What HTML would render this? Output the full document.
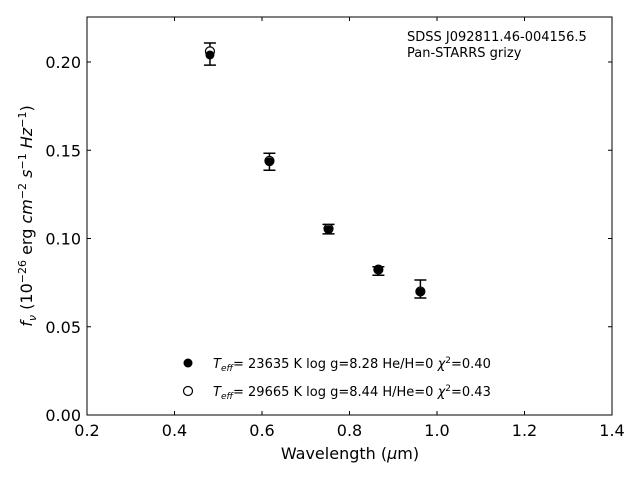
<!DOCTYPE html>
<html><head><meta charset="utf-8"><style>
body{margin:0;background:#fff;}
svg{font-family:"DejaVu Sans","Liberation Sans",sans-serif;}
</style></head><body>
<svg id="c" width="640" height="480" viewBox="0 0 640 480">
<rect x="0" y="0" width="640" height="480" fill="#fff"/>
<g id="g"></g>
<text x="407" y="41" font-size="13">SDSS J092811.46-004156.5</text>
<text x="407" y="57" font-size="13">Pan-STARRS grizy</text>
<g>
<circle cx="188" cy="363" r="4.5" fill="#000"/>
<text x="213" y="368" font-size="13"><tspan font-style="italic">T</tspan><tspan font-style="italic" font-size="9" dy="3">eff</tspan><tspan dy="-3">= 23635 K  log g=8.28  He/H=0  </tspan><tspan font-style="italic">χ</tspan><tspan font-size="9" dy="-5">2</tspan><tspan dy="5">=0.40</tspan></text>
<circle cx="188" cy="391" r="4.5" fill="#fff" stroke="#000" stroke-width="1.2"/>
<text x="213" y="396" font-size="13"><tspan font-style="italic">T</tspan><tspan font-style="italic" font-size="9" dy="3">eff</tspan><tspan dy="-3">= 29665 K  log g=8.44  H/He=0  </tspan><tspan font-style="italic">χ</tspan><tspan font-size="9" dy="-5">2</tspan><tspan dy="5">=0.43</tspan></text>
</g>
<text x="350" y="459" font-size="16" text-anchor="middle">Wavelength (<tspan font-style="italic">μ</tspan>m)</text>
<text transform="translate(32,216) rotate(-90)" font-size="16" text-anchor="middle"><tspan font-style="italic">f</tspan><tspan font-style="italic" font-size="11" dy="4">ν</tspan><tspan dy="-4"> (10</tspan><tspan font-size="11" dy="-6">−26</tspan><tspan dy="6"> erg </tspan><tspan font-style="italic">cm</tspan><tspan font-size="11" dy="-6">−2</tspan><tspan dy="6"> </tspan><tspan font-style="italic">s</tspan><tspan font-size="11" dy="-6">−1</tspan><tspan dy="6"> </tspan><tspan font-style="italic">Hz</tspan><tspan font-size="11" dy="-6">−1</tspan><tspan dy="6">)</tspan></text>
</svg>
<script>
const wavelengths=[0.481,0.617,0.752,0.866,0.962];
const obsFlux=[0.2045,0.1435,0.1053,0.0816,0.0714];
const obsErr=[0.0063,0.0048,0.0027,0.0024,0.0051];
const modelFilled=[0.2040,0.1435,0.1050,0.0822,0.0697];
const modelOpen=[0.2060,0.1440,0.1055,0.0824,0.0700];
const xTicks=[0.2,0.4,0.6,0.8,1.0,1.2,1.4];
const xTickLabels=["0.2","0.4","0.6","0.8","1.0","1.2","1.4"];
const yTicks=[0,0.05,0.1,0.15,0.2];
const yTickLabels=["0.00","0.05","0.10","0.15","0.20"];
const L=87,R=612,T=17,B=415;
const X=v=>L+(v-0.2)*(R-L)/1.2;
const Y=v=>B-v*1765;
const NS="http://www.w3.org/2000/svg";
const g=document.getElementById('g');
function mk(t,a){const e=document.createElementNS(NS,t);for(const k in a)e.setAttribute(k,a[k]);g.appendChild(e);return e;}
let e=mk('rect',{x:L,y:T,width:R-L,height:B-T,fill:'none',stroke:'#000','stroke-width':1});


xTicks.forEach((v,i)=>{
 const x=X(v);
 let t=mk('line',{x1:x,x2:x,y1:B,y2:B-4,stroke:'#000'});
 
 
 let t2=mk('line',{x1:x,x2:x,y1:T,y2:T+4,stroke:'#000'});
 
 
 let l=mk('text',{x:x,y:B+21,'font-size':16,'text-anchor':'middle'});
 l.textContent=xTickLabels[i];
 
 
});
yTicks.forEach((v,i)=>{
 const y=Y(v);
 let t=mk('line',{x1:L,x2:L+4,y1:y,y2:y,stroke:'#000'});
 
 
 let t2=mk('line',{x1:R,x2:R-4,y1:y,y2:y,stroke:'#000'});
 
 
 let l=mk('text',{x:L-6,y:y+6,'font-size':16,'text-anchor':'end'});
 l.textContent=yTickLabels[i];
 
 
});
wavelengths.forEach((w,i)=>{
 const x=X(w);
 const y1=Y(obsFlux[i]+obsErr[i]),y2=Y(obsFlux[i]-obsErr[i]);
 let eb=mk('path',{d:`M${x},${y1}V${y2}M${x-6},${y1}H${x+6}M${x-6},${y2}H${x+6}`,stroke:'#000','stroke-width':1.5,fill:'none'});
 
 
 let o=mk('circle',{cx:x,cy:Y(modelOpen[i]),r:4.5,fill:'#fff',stroke:'#000','stroke-width':1.2});
 
 
 let f=mk('circle',{cx:x,cy:Y(modelFilled[i]),r:4.5,fill:'#000'});
 
 
});
</script>
</body></html>
